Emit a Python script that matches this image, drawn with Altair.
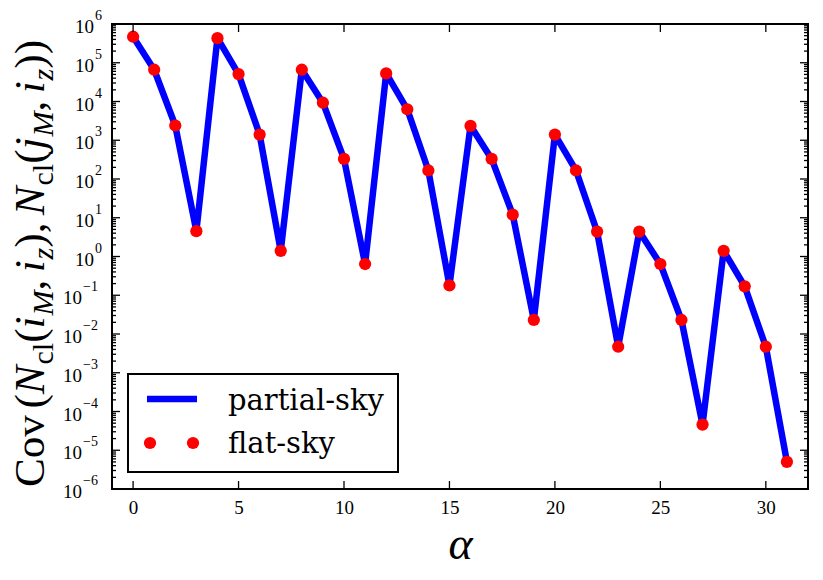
import altair as alt
import pandas as pd

# ---------------- data ----------------
alpha = list(range(32))
cov_values = [4.7e5, 6.6e4, 2.4e3, 4.5, 4.3e5, 5.1e4, 1.4e3, 1.4,
              6.6e4, 9.3e3, 3.3e2, 0.64, 5.3e4, 6.3e3, 1.66e2, 0.18,
              2.35e3, 3.3e2, 12.0, 0.023, 1.4e3, 1.66e2, 4.4, 4.7e-3,
              4.4, 0.64, 0.023, 4.6e-5, 1.4, 0.17, 4.7e-3, 5.0e-6]
x_tick_values = [0, 5, 10, 15, 20, 25, 30]
y_major_exponents = list(range(-6, 7))
y_minor_multipliers = [2, 3, 4, 5, 6, 7, 8, 9]
series_labels = ["partial-sky", "flat-sky"]

y_major = [10.0 ** e for e in y_major_exponents]
y_minor = [k * 10.0 ** e for e in y_major_exponents[:-1] for k in y_minor_multipliers]

df = pd.DataFrame({"alpha": alpha, "value": cov_values})

W, H = 696, 465
xscale = alt.Scale(domain=[-1, 32], nice=False, zero=False)
yscale = alt.Scale(type="log", domain=[1e-6, 1e6], nice=False)

X = alt.X("alpha:Q", scale=xscale,
          axis=alt.Axis(values=x_tick_values, ticks=False, domain=False, grid=False,
                        labelFont="Liberation Serif", labelFontSize=19, labelPadding=9,
                        labelColor="black", title="α", titleFont="Liberation Serif",
                        titleFontStyle="italic", titleFontWeight="normal",
                        titleFontSize=46, titleColor="black", titleX=W / 2,
                        titleY=69, titleBaseline="alphabetic", titleAlign="center"))
Y = alt.Y("value:Q", scale=yscale,
          axis=alt.Axis(values=y_major, ticks=False, domain=False, grid=False,
                        labels=False, title=None))

line = alt.Chart(df).mark_line(color="#0000ff", strokeWidth=6.5,
                               strokeJoin="round").encode(x=X, y=Y)
points = alt.Chart(df).mark_circle(color="#ff0000", size=150,
                                   opacity=1).encode(x=X, y=Y)

# ---------------- inward ticks ----------------
def yticks(vals, length, right=False):
    d = pd.DataFrame({"value": vals})
    if right:
        xv, x2v = W - length, W
    else:
        xv, x2v = 0, length
    return alt.Chart(d).mark_rule(color="black", strokeWidth=1.3).encode(
        y=Y, x=alt.value(xv), x2=alt.value(x2v))

def xticks(vals, length, top=False):
    d = pd.DataFrame({"alpha": vals})
    if top:
        yv, y2v = 0, length
    else:
        yv, y2v = H - length, H
    return alt.Chart(d).mark_rule(color="black", strokeWidth=1.3).encode(
        x=X, y=alt.value(yv), y2=alt.value(y2v))

ticks = [yticks(y_major, 8), yticks(y_major, 8, True),
         yticks(y_minor, 4), yticks(y_minor, 4, True),
         xticks(x_tick_values, 8), xticks(x_tick_values, 8, True)]

# ---------------- y tick labels 10^e ----------------
def exp_str(e):
    return ("\u2212" + str(-e)) if e < 0 else str(e)

ylab_layers = []
for neg in (False, True):
    exps = [e for e in y_major_exponents if (e < 0) == neg]
    d = pd.DataFrame({"value": [10.0 ** e for e in exps],
                      "base": ["10"] * len(exps),
                      "exp": [exp_str(e) for e in exps]})
    base_right = -30 if neg else -18
    ylab_layers.append(alt.Chart(d).mark_text(
        font="Liberation Serif", fontSize=19, align="right", baseline="middle",
        dy=3, color="black").encode(y=Y, text="base:N", x=alt.value(base_right)))
    ylab_layers.append(alt.Chart(d).mark_text(
        font="Liberation Serif", fontSize=14, align="left", baseline="alphabetic",
        dy=-4, color="black").encode(y=Y, text="exp:N", x=alt.value(base_right + 1)))

one = pd.DataFrame({"d": [0]})

# ---------------- legend ----------------
leg_box = alt.Chart(one).mark_rect(fill="white", stroke="black", strokeWidth=2).encode(
    x=alt.value(16), x2=alt.value(286), y=alt.value(350), y2=alt.value(448))
leg_line = alt.Chart(one).mark_rule(color="#0000ff", strokeWidth=6.5).encode(
    x=alt.value(35), x2=alt.value(85), y=alt.value(375))
leg_dots = [alt.Chart(one).mark_circle(color="#ff0000", size=150, opacity=1).encode(
    x=alt.value(px), y=alt.value(419)) for px in (38, 81)]
leg_texts = [alt.Chart(pd.DataFrame({"t": [lab]})).mark_text(
    font="DejaVu Serif", fontSize=29, align="left", baseline="alphabetic",
    color="black").encode(text="t:N", x=alt.value(116), y=alt.value(py))
    for lab, py in zip(series_labels, (386, 429))]

# ---------------- y title (composed math text) ----------------
# Times (Liberation Serif) advance widths per em
roman_w = {"C": 0.667, "o": 0.5, "v": 0.5, "(": 0.333, ")": 0.333, ",": 0.25,
           "c": 0.444, "l": 0.278}
italic_w = {"N": 0.667, "i": 0.278, "M": 0.833, "j": 0.278, "z": 0.389}
SUB = 0.7
pieces = [("Cov", "normal", False, 0.15), ("(", "normal", False, 0.0),
          ("N", "italic", False, 0.02), ("cl", "normal", True, 0.0),
          ("(", "normal", False, 0.0), ("i", "italic", False, 0.02),
          ("M", "italic", True, 0.0), (",", "normal", False, 0.17),
          ("i", "italic", False, 0.02), ("z", "italic", True, 0.0),
          (")", "normal", False, 0.0), (",", "normal", False, 0.17),
          ("N", "italic", False, 0.02), ("cl", "normal", True, 0.0),
          ("(", "normal", False, 0.0), ("j", "italic", False, 0.02),
          ("M", "italic", True, 0.0), (",", "normal", False, 0.17),
          ("i", "italic", False, 0.02), ("z", "italic", True, 0.0),
          ("))", "normal", False, 0.0)]

def pw(text, style, sub):
    tab = italic_w if style == "italic" else roman_w
    return sum(tab[c] for c in text) * (SUB if sub else 1.0)

total_em = sum(pw(t, s, b) + g for t, s, b, g in pieces)
title_len = 447.0
F = title_len / total_em
start_y = 463.0
base_x = -68.0
title_layers = []
pos = start_y
for t, s, b, g in pieces:
    title_layers.append(
        alt.Chart(pd.DataFrame({"t": [t]})).mark_text(
            font="Liberation Serif", fontSize=F * (SUB if b else 1.0), fontStyle=s,
            angle=270, align="left", baseline="alphabetic", color="black").encode(
            text="t:N", x=alt.value(base_x + (0.2 * F if b else 0.0)), y=alt.value(pos)))
    pos -= (pw(t, s, b) + g) * F

chart = alt.layer(
    line, points, *ticks, *ylab_layers, leg_box, leg_line, *leg_dots, *leg_texts,
    *title_layers
).properties(
    width=W, height=H,
    autosize=alt.AutoSizeParams(type="none"),
    padding={"left": 104, "top": 16, "right": 7, "bottom": 83},
    background="white",
).configure_view(stroke="black", strokeWidth=2)

chart.save("out.html", embed_options={"renderer": "svg", "actions": False})
